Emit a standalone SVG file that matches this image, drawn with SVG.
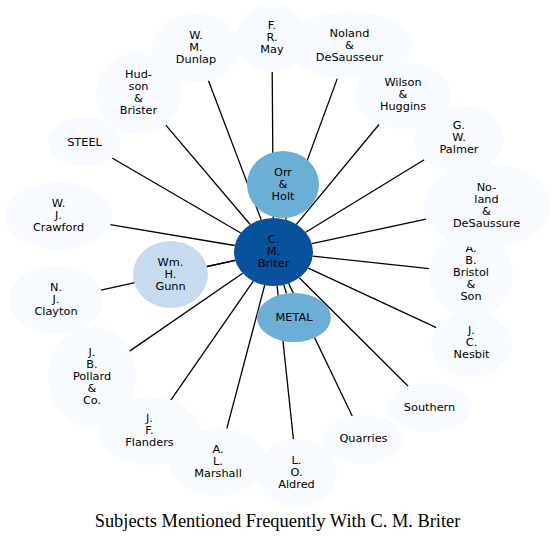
<svg xmlns="http://www.w3.org/2000/svg" width="555" height="542" viewBox="0 0 555 542">
<style>
.e line{stroke:#000;stroke-width:1.3;fill:none}
.n text{font-family:"DejaVu Sans",sans-serif;font-size:11.3px;text-anchor:middle;fill:#000}
.l{fill:#f7fbff}
.m{fill:#c6dbef}
.h{fill:#6baed6}
.d{fill:#08519c}
.title{font-family:"Liberation Serif","Times New Roman",serif;font-size:18.4px;text-anchor:middle;fill:#000}
</style>
<rect width="555" height="542" fill="#fff"/>
<g id="edges" class="e">
<line x1="240.8" y1="233.0" x2="112.1" y2="158.0"/>
<line x1="250.2" y1="224.5" x2="165.8" y2="125.2"/>
<line x1="261.2" y1="219.7" x2="208.4" y2="80.6"/>
<line x1="273.3" y1="218.0" x2="272.2" y2="72"/>
<line x1="285.4" y1="219.6" x2="337.4" y2="78.4"/>
<line x1="296.4" y1="224.3" x2="379" y2="124.5"/>
<line x1="305.7" y1="232.3" x2="424.2" y2="159.8"/>
<line x1="311.8" y1="243.7" x2="426.1" y2="219.2"/>
<line x1="312.7" y1="256.2" x2="429.2" y2="268.6"/>
<line x1="308.3" y1="268.1" x2="436.3" y2="327.7"/>
<line x1="299.3" y1="277.7" x2="408.2" y2="386.3"/>
<line x1="288.6" y1="283.4" x2="352.2" y2="416"/>
<line x1="277.1" y1="285.9" x2="293.4" y2="439.1"/>
<line x1="264.7" y1="285.2" x2="226.8" y2="428.6"/>
<line x1="253.3" y1="281.2" x2="170.8" y2="400.2"/>
<line x1="242.7" y1="273.2" x2="129.6" y2="351.1"/>
<line x1="234.7" y1="245.5" x2="110.2" y2="224.7"/>
<line x1="235.2" y1="260.4" x2="101" y2="290.1"/>
<line x1="235.2" y1="260.4" x2="206.9" y2="266.5"/>
<line x1="278.2" y1="218.3" x2="278.3" y2="217.7"/>
<line x1="283.8" y1="284.8" x2="286.5" y2="293.5"/>
</g>
<g id="n-briter" class="n"><ellipse class="d" cx="273.5" cy="252" rx="39.5" ry="34"/><text x="273.5" y="243.2">C.</text><text x="273.5" y="255.2">M.</text><text x="273.5" y="267.2">Briter</text></g>
<g id="n-orr-holt" class="n"><ellipse class="h" cx="283" cy="184.5" rx="36" ry="33.5"/><text x="283" y="175.7">Orr</text><text x="283" y="187.7">&amp;</text><text x="283" y="199.7">Holt</text></g>
<g id="n-metal" class="n"><ellipse class="h" cx="294" cy="317.5" rx="37" ry="24.5"/><text x="294" y="320.9">METAL</text></g>
<g id="n-gunn" class="n"><ellipse class="m" cx="170.5" cy="274.5" rx="37.5" ry="33.5"/><text x="170.5" y="265.7">Wm.</text><text x="170.5" y="277.7">H.</text><text x="170.5" y="289.7">Gunn</text></g>
<g id="n-crawford" class="n"><ellipse class="l" cx="58.5" cy="216" rx="53.5" ry="34"/><text x="58.5" y="207.2">W.</text><text x="58.5" y="219.2">J.</text><text x="58.5" y="231.2">Crawford</text></g>
<g id="n-clayton" class="n"><ellipse class="l" cx="56" cy="300" rx="47" ry="34"/><text x="56" y="291.2">N.</text><text x="56" y="303.2">J.</text><text x="56" y="315.2">Clayton</text></g>
<g id="n-steel" class="n"><ellipse class="l" cx="84.5" cy="142" rx="36.5" ry="24.5"/><text x="84.5" y="145.5">STEEL</text></g>
<g id="n-hudson" class="n"><ellipse class="l" cx="138.5" cy="93" rx="42.5" ry="42"/><text x="138.5" y="78.2">Hud-</text><text x="138.5" y="90.2">son</text><text x="138.5" y="102.2">&amp;</text><text x="138.5" y="114.2">Brister</text></g>
<g id="n-dunlap" class="n"><ellipse class="l" cx="196" cy="48" rx="44" ry="34"/><text x="196" y="39.2">W.</text><text x="196" y="51.2">M.</text><text x="196" y="63.2">Dunlap</text></g>
<g id="n-may" class="n"><ellipse class="l" cx="272" cy="38" rx="36" ry="34"/><text x="272" y="29.2">F.</text><text x="272" y="41.2">R.</text><text x="272" y="53.2">May</text></g>
<g id="n-noland-desausseur" class="n"><ellipse class="l" cx="349.5" cy="45.5" rx="63.5" ry="33.5"/><text x="349.5" y="36.5">Noland</text><text x="349.5" y="48.5">&amp;</text><text x="349.5" y="60.5">DeSausseur</text></g>
<g id="n-wilson" class="n"><ellipse class="l" cx="403" cy="95.5" rx="48" ry="33.5"/><text x="403" y="86.2">Wilson</text><text x="403" y="98.2">&amp;</text><text x="403" y="110.2">Huggins</text></g>
<g id="n-palmer" class="n"><ellipse class="l" cx="459" cy="138.5" rx="45" ry="33.5"/><text x="459" y="129.4">G.</text><text x="459" y="141.4">W.</text><text x="459" y="153.4">Palmer</text></g>
<g id="n-bristol" class="n"><ellipse class="l" cx="471" cy="273.5" rx="42" ry="44"/><text x="471" y="252.4">A.</text><text x="471" y="264.4">B.</text><text x="471" y="276.4">Bristol</text><text x="471" y="288.4">&amp;</text><text x="471" y="300.4">Son</text></g>
<g id="n-noland-desaussure" class="n"><ellipse class="l" cx="486.5" cy="206" rx="63.5" ry="42.5"/><text x="486.5" y="191.2">No-</text><text x="486.5" y="203.2">land</text><text x="486.5" y="215.2">&amp;</text><text x="486.5" y="227.2">DeSaussure</text></g>
<g id="n-nesbit" class="n"><ellipse class="l" cx="471.5" cy="344" rx="40.5" ry="33"/><text x="471.5" y="333.6">J.</text><text x="471.5" y="345.6">C.</text><text x="471.5" y="357.6">Nesbit</text></g>
<g id="n-southern" class="n"><ellipse class="l" cx="429.5" cy="407.5" rx="42.5" ry="24.5"/><text x="429.5" y="410.7">Southern</text></g>
<g id="n-quarries" class="n"><ellipse class="l" cx="363.5" cy="439.5" rx="40.5" ry="24.5"/><text x="363.5" y="442.4">Quarries</text></g>
<g id="n-aldred" class="n"><ellipse class="l" cx="297" cy="473" rx="40" ry="34"/><text x="296.5" y="464.2">L.</text><text x="296.5" y="476.2">O.</text><text x="296.5" y="488.2">Aldred</text></g>
<g id="n-marshall" class="n"><ellipse class="l" cx="218" cy="462" rx="49" ry="34"/><text x="218" y="452.6">A.</text><text x="218" y="464.6">L.</text><text x="218" y="476.6">Marshall</text></g>
<g id="n-flanders" class="n"><ellipse class="l" cx="149.5" cy="431" rx="50.5" ry="34"/><text x="149.5" y="422.2">J.</text><text x="149.5" y="434.2">F.</text><text x="149.5" y="446.2">Flanders</text></g>
<g id="n-pollard" class="n"><ellipse class="l" cx="92" cy="377" rx="44" ry="50"/><text x="92" y="356.2">J.</text><text x="92" y="368.2">B.</text><text x="92" y="380.2">Pollard</text><text x="92" y="392.2">&amp;</text><text x="92" y="404.2">Co.</text></g>
<text class="title" x="277.5" y="526.7">Subjects Mentioned Frequently With C. M. Briter</text>
</svg>
